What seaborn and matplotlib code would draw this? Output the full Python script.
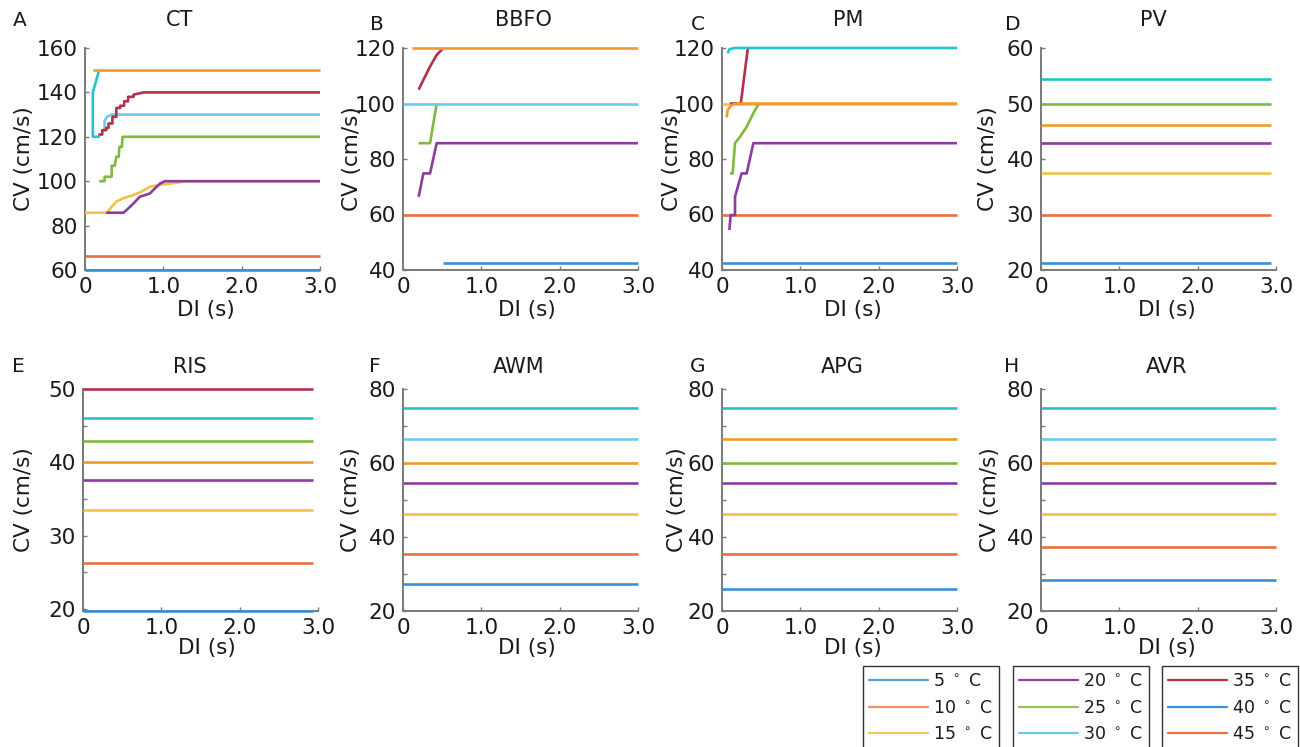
import matplotlib
matplotlib.use('Agg')
import numpy as np
import pandas as pd
import matplotlib.pyplot as plt
import seaborn as sns
from matplotlib.lines import Line2D

# ---------------- data ----------------
TEMPS = ['5', '10', '15', '20', '25', '30', '35', '40', '45']

# Panel A (CT): DI (s) / CV (cm/s) restitution curves
CT = {
    '5':  ([0.0, 3.0], [60.2, 60.2]),
    '10': ([0.0, 3.0], [66.5, 66.5]),
    '15': ([0.0, 0.28, 0.34, 0.40, 0.49, 0.62, 0.72, 0.83, 0.94, 1.04, 1.21, 1.30, 3.0],
           [85.8, 85.8, 88.5, 90.8, 92.3, 93.8, 95.3, 97.5, 98.3, 98.7, 99.5, 100.0, 100.0]),
    '20': ([0.27, 0.49, 0.53, 0.575, 0.62, 0.66, 0.70, 0.77, 0.83, 0.87, 0.915, 0.96, 1.02, 3.0],
           [85.8, 85.8, 87.0, 88.5, 90.0, 91.5, 93.0, 93.8, 94.5, 96.0, 97.5, 99.0, 100.0, 100.0]),
    '25': ([0.18, 0.25, 0.25, 0.34, 0.34, 0.38, 0.40, 0.43, 0.44, 0.47, 0.48, 0.52, 3.0],
           [100, 100, 102, 102, 107, 107, 111, 111, 115.5, 115.5, 120, 120, 120]),
    '30': ([0.25, 0.25, 0.28, 0.34, 3.0], [123, 127, 129, 130, 130]),
    '35': ([0.17, 0.22, 0.22, 0.27, 0.27, 0.30, 0.30, 0.35, 0.35, 0.40, 0.40, 0.45, 0.45,
            0.50, 0.50, 0.55, 0.55, 0.62, 0.62, 0.75, 3.0],
           [121, 121, 123, 123, 124, 124, 126, 126, 129, 129, 133, 133, 134,
            134, 136, 136, 138, 138, 139, 140, 140]),
    '40': ([0.19, 0.10, 0.10, 0.18], [120, 120, 140, 150]),
    '45': ([0.10, 3.0], [150, 150]),
}

# Panel B (BBFO)
BBFO = {
    '5':  ([0.515, 3.0], [42.6, 42.6]),
    '10': ([0.0, 3.0], [60, 60]),
    '20': ([0.20, 0.26, 0.345, 0.43, 3.0], [66.4, 74.8, 74.8, 85.7, 85.7]),
    '25': ([0.20, 0.345, 0.43], [85.7, 85.7, 100]),
    '30': ([0.0, 3.0], [100, 100]),
    '35': ([0.20, 0.26, 0.345, 0.43, 0.515], [105, 108.5, 113.3, 117.5, 120]),
    '45': ([0.11, 3.0], [120, 120]),
}

# Panel C (PM)
PM = {
    '5':  ([0.0, 3.0], [42.6, 42.6]),
    '10': ([0.0, 3.0], [60, 60]),
    '15': ([0.0, 3.0], [100, 100]),
    '20': ([0.094, 0.11, 0.166, 0.166, 0.25, 0.315, 0.40, 3.0],
           [54.4, 59.8, 59.8, 66.4, 74.8, 74.8, 85.7, 85.7]),
    '25': ([0.102, 0.136, 0.166, 0.23, 0.315, 0.40, 0.46, 0.48],
           [74.8, 74.8, 85.7, 88.0, 91.6, 96.5, 99.5, 100]),
    '35': ([0.10, 0.24, 0.33], [100, 100, 120]),
    '40': ([0.073, 0.094, 0.166, 3.0], [118.1, 119.6, 120, 120]),
    '45': ([0.06, 0.073, 0.124, 0.19, 3.0], [95, 97.7, 99.5, 100, 100]),
}

# Panels D-H: constant CV over DI
PV_T = ['5', '10', '15', '20', '45', '25', '40']
PV_CV = [21.3, 29.9, 37.4, 42.8, 46.1, 50.0, 54.5]
RIS_T = ['5', '10', '15', '20', '45', '25', '40', '35']
RIS_CV = [19.75, 26.3, 33.5, 37.6, 40.1, 42.9, 46.1, 50.0]
AWM_T = ['5', '10', '15', '20', '45', '30', '40']
AWM_CV = [27.2, 35.3, 46.1, 54.5, 60.0, 66.5, 74.9]
APG_T = ['5', '10', '15', '20', '25', '45', '40']
APG_CV = [26.0, 35.3, 46.1, 54.5, 60.0, 66.5, 74.9]
AVR_T = ['5', '10', '15', '20', '45', '30', '40']
AVR_CV = [28.3, 37.4, 46.1, 54.5, 60.0, 66.5, 74.9]
DI_SPAN_SHORT = [0.0, 2.94]
DI_SPAN_FULL = [0.0, 3.0]

X_TICKS = [0, 1, 2, 3]
X_TICKLABELS = ['0', '1.0', '2.0', '3.0']

LINE_COLORS = {'5': '#3b8fd5', '10': '#e9703f', '15': '#f1c14b', '20': '#8c3c9e',
               '25': '#80b842', '30': '#6cc9f1', '35': '#b3304b', '40': '#25c3cb',
               '45': '#f09b2c'}
LEGEND_COLORS = {'5': '#5aa0d9', '10': '#f08f68', '15': '#f3c75c', '20': '#8a40a0',
                 '25': '#90c25a', '30': '#62cbf3', '35': '#b83142', '40': '#3b8fd5',
                 '45': '#f06c3a'}


def flat(ts, vals, span):
    return {t: (list(span), [v, v]) for t, v in zip(ts, vals)}


# ---------------- figure ----------------
sns.set_theme(style='white')
plt.rcParams['font.family'] = ['DejaVu Sans']
plt.rcParams['mathtext.fontset'] = 'dejavusans'

W, H = 1300, 747
fig = plt.figure(figsize=(W / 100, H / 100), dpi=100)
AXW, AXH = 235, 222

panels = [
    ('A', 'CT', CT, 85, 48, (60, 160), np.arange(60, 161, 20), [], (20, 20), (180, 20), 24, (206, 310)),
    ('B', 'BBFO', BBFO, 403, 48, (40, 120), np.arange(40, 121, 20), [], (377, 24), (523, 20), 352, (527, 310)),
    ('C', 'PM', PM, 722, 48, (40, 120), np.arange(40, 121, 20), [], (698, 24), (848, 20), 672, (853, 310)),
    ('D', 'PV', flat(PV_T, PV_CV, DI_SPAN_SHORT), 1041, 48, (20, 60), np.arange(20, 61, 10), [], (1013, 24), (1153, 20), 988, (1167, 310)),
    ('E', 'RIS', flat(RIS_T, RIS_CV, DI_SPAN_SHORT), 83, 389, (19.7, 50), np.arange(20, 51, 10), [25, 35, 45], (18, 367), (190, 367), 24, (207, 648)),
    ('F', 'AWM', flat(AWM_T, AWM_CV, DI_SPAN_FULL), 403, 389, (20, 80), np.arange(20, 81, 20), [30, 50, 70], (375, 367), (519, 367), 351, (527, 648)),
    ('G', 'APG', flat(APG_T, APG_CV, DI_SPAN_FULL), 722, 389, (20, 80), np.arange(20, 81, 20), [30, 50, 70], (698, 367), (842, 367), 677, (853, 648)),
    ('H', 'AVR', flat(AVR_T, AVR_CV, DI_SPAN_FULL), 1041, 389, (20, 80), np.arange(20, 81, 20), [30, 50, 70], (1012, 367), (1167, 367), 990, (1167, 648)),
]

SPINE = '#7a7a7a'
TXT = '#1a1a1a'

for (letter, title, series, lpx, tpx, ylim, major, minor, lpos, tpos, ylx, xlpos) in panels:
    ax = fig.add_axes([lpx / W, 1 - (tpx + AXH) / H, AXW / W, AXH / H])
    rows = []
    for t, (xs, ys) in series.items():
        for x, y in zip(xs, ys):
            rows.append((t, x, y))
    df = pd.DataFrame(rows, columns=['T', 'DI', 'CV'])
    order = [t for t in TEMPS if t in series]
    sns.lineplot(data=df, x='DI', y='CV', hue='T', hue_order=order,
                 palette={t: LINE_COLORS[t] for t in order},
                 sort=False, estimator=None, legend=False, linewidth=1.9, ax=ax)
    for ln in ax.lines:
        ln.set_clip_on(False)
        ln.set_zorder(3)
        ln.set_solid_capstyle('butt')
        ln.set_solid_joinstyle('round')
    ax.set_xlim(0, 3)
    ax.set_ylim(*ylim)
    ax.set_xticks(X_TICKS)
    ax.set_xticklabels(X_TICKLABELS)
    ax.set_yticks(major)
    ax.set_yticklabels([str(int(v)) for v in major])
    if len(minor):
        ax.set_yticks(minor, minor=True)
    ax.set_xlabel('')
    ax.set_ylabel('')
    for s in ['top', 'right']:
        ax.spines[s].set_visible(False)
    for s in ['left', 'bottom']:
        ax.spines[s].set_color(SPINE)
        ax.spines[s].set_linewidth(1.4)
        ax.spines[s].set_zorder(2)
    ax.tick_params(which='both', direction='in', length=3, width=1, color=SPINE,
                   labelsize=15.5, labelcolor=TXT, pad=5, left=True, bottom=True)
    ax.set_facecolor('white')

    fig.text(lpos[0] / W, 1 - lpos[1] / H, letter, ha='center', va='center', fontsize=14.5, color=TXT)
    fig.text(tpos[0] / W, 1 - tpos[1] / H, title, ha='center', va='center', fontsize=15, color=TXT)
    fig.text(ylx / W, 1 - (tpx + AXH / 2) / H, 'CV (cm/s)', rotation=90, ha='center', va='center',
             fontsize=15.5, color=TXT)
    fig.text(xlpos[0] / W, 1 - xlpos[1] / H, 'DI (s)', ha='center', va='center', fontsize=15.5, color=TXT)

# ---------------- legends ----------------
LEG_GROUPS = [['5', '10', '15'], ['20', '25', '30'], ['35', '40', '45']]
LEG_LEFTS = [863, 1013, 1162]
for grp, lx in zip(LEG_GROUPS, LEG_LEFTS):
    handles = [Line2D([], [], color=LEGEND_COLORS[t], lw=1.6) for t in grp]
    labels = [t + r' $^\circ$ C' for t in grp]
    lg = fig.legend(handles, labels, loc='upper left', bbox_to_anchor=(lx / W, 1 - 666 / H),
                    frameon=True, fancybox=False, edgecolor='#333333', fontsize=12.5,
                    handlelength=3.4, handletextpad=0.3, labelspacing=0.5,
                    borderpad=0.35, borderaxespad=0, framealpha=1)
    lg.get_frame().set_linewidth(1.0)
    for txt in lg.get_texts():
        txt.set_color(TXT)

fig.savefig('out.png', dpi=100)
